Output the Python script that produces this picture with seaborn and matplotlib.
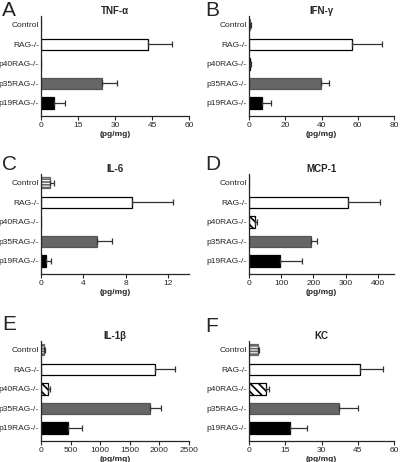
import numpy as np
import matplotlib
matplotlib.use("Agg")
import matplotlib.pyplot as plt
import seaborn as sns

# data (mean, one-sided SEM)
groups = ["Control", "RAG-/-", "p40RAG-/-", "p35RAG-/-", "p19RAG-/-"]

tnf_mean = [0, 43.2, 0, 24.9, 5.1]
tnf_err = [0, 10.1, 0, 5.8, 4.6]
ifn_mean = [0.8, 56.9, 0.6, 39.5, 6.9]
ifn_err = [0.4, 16.7, 0.3, 4.7, 5.3]
il6_mean = [0.86, 8.57, 0, 5.3, 0.48]
il6_err = [0.41, 3.93, 0, 1.46, 0.5]
mcp_mean = [0, 306, 20, 191, 95]
mcp_err = [0, 102, 5, 21, 68]
il1b_mean = [45, 1930, 124, 1834, 463]
il1b_err = [23, 340, 28, 197, 226]
kc_mean = [3.7, 45.8, 7.1, 37.1, 16.8]
kc_err = [0.4, 9.5, 1.1, 7.9, 7.3]

titles = ["TNF-α", "IFN-γ", "IL-6", "MCP-1", "IL-1β", "KC"]
letters = ["A", "B", "C", "D", "E", "F"]
xmax = [60, 80, 14, 450, 2500, 60]
xstep = [15, 20, 4, 100, 500, 15]
means = [tnf_mean, ifn_mean, il6_mean, mcp_mean, il1b_mean, kc_mean]
errs = [tnf_err, ifn_err, il6_err, mcp_err, il1b_err, kc_err]

# bar styles per group
face = ["white", "white", "white", "#666666", "black"]
edge = ["#666666", "black", "black", "#555555", "black"]
hatch = ["------", "", "\\\\\\\\", "", ""]

sns.set_style("ticks")
plt.rcParams["font.family"] = ["Liberation Sans", "DejaVu Sans"]
plt.rcParams["hatch.linewidth"] = 1.2

fig = plt.figure(figsize=(4, 4.62), dpi=100)
W, H = 400, 462
# axes boxes in pixels: left, bottom(y of x axis), width
lefts = [41, 249, 41, 249, 41, 249]
widths = [148, 145, 148, 145, 148, 145]
bottoms = [116, 116, 274, 274, 441, 441]
ax_h = 100
# panel letter positions in pixels
letter_x = [2, 205, 2, 205, 2, 205]
letter_y = [10, 10, 164, 164, 325, 327]

for i in range(6):
    ax = fig.add_axes([lefts[i] / W, 1 - bottoms[i] / H, widths[i] / W, ax_h / H])
    sns.barplot(x=means[i], y=groups, hue=groups, palette=face, legend=False,
                orient="h", width=0.58, ax=ax, linewidth=0.9)
    for cont, fc, ec, h in zip(ax.containers, face, edge, hatch):
        for bar in cont:
            bar.set_facecolor(fc)
            bar.set_edgecolor(ec)
            bar.set_hatch(h)
    m = np.array(means[i], dtype=float)
    e = np.array(errs[i], dtype=float)
    pos = np.arange(len(groups))
    keep = e > 0
    ax.errorbar(m[keep], pos[keep], xerr=[np.zeros(keep.sum()), e[keep]],
                fmt="none", ecolor="#333333", elinewidth=0.9, capsize=2.5,
                capthick=0.9)
    ax.set_xlim(0, xmax[i])
    ax.set_xticks(np.arange(0, xmax[i] + 1, xstep[i]))
    ax.set_ylim(4.67, -0.45)
    ax.set_xlabel("(pg/mg)", fontsize=6, fontweight="bold", labelpad=1.5)
    ax.set_ylabel("")
    ax.set_title(titles[i], fontsize=7, fontweight="bold", pad=1.5)
    ax.tick_params(axis="y", length=0, pad=1.5, labelsize=6)
    ax.tick_params(axis="x", length=3, width=0.8, pad=1.5, labelsize=6)
    for s in ["left", "bottom"]:
        ax.spines[s].set_linewidth(0.9)
    sns.despine(ax=ax)
    fig.text(letter_x[i] / W, 1 - letter_y[i] / H, letters[i],
             fontsize=15, va="center", ha="left")

plt.savefig("out.png", dpi=100)
